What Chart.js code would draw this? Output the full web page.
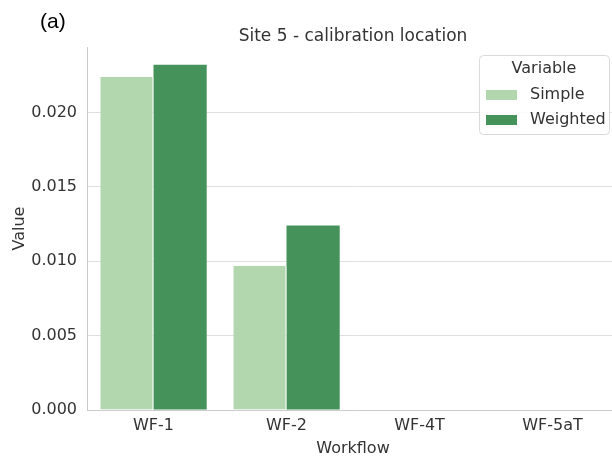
<!DOCTYPE html>
<html lang="en">
<head>
    <meta charset="UTF-8">
    <title>Site 5 - calibration location</title>
    <script src="https://cdn.jsdelivr.net/npm/chart.js"></script>
    <style>
        html, body {
            margin: 0;
            padding: 0;
            background: #fff;
            overflow: hidden;
        }
        canvas {
            display: block;
        }
    </style>
</head>
<body>
    <canvas id="chart" width="620" height="464"></canvas>

    <script>
        // data
        const workflows = ['WF-1', 'WF-2', 'WF-4T', 'WF-5aT'];
        const simpleValues = [0.0224, 0.0097, null, null];
        const weightedValues = [0.0232, 0.0124, null, null];
        const yTicks = [0, 0.005, 0.01, 0.015, 0.02];

        const textColor = '#333333';
        const font = 'DejaVu Sans';

        // title, panel letter and legend drawn over the plot area
        const overlay = {
            id: 'overlay',
            afterDraw(chart) {
                const ctx = chart.ctx;
                const area = chart.chartArea;
                ctx.save();

                ctx.fillStyle = '#000';
                ctx.font = '21px "Liberation Sans"';
                ctx.textAlign = 'left';
                ctx.textBaseline = 'alphabetic';
                ctx.fillText('(a)', 40, 28);

                ctx.fillStyle = textColor;
                ctx.font = '17px "' + font + '"';
                ctx.textAlign = 'center';
                ctx.fillText('Site 5 - calibration location', (area.left + area.right) / 2, 41);

                // legend box
                const bx = 479.5, by = 55.5, bw = 130, bh = 79;
                ctx.beginPath();
                ctx.roundRect(bx, by, bw, bh, 4);
                ctx.fillStyle = 'rgba(255,255,255,0.85)';
                ctx.fill();
                ctx.strokeStyle = '#d9d9d9';
                ctx.lineWidth = 1;
                ctx.stroke();

                ctx.font = '16px "' + font + '"';
                ctx.fillStyle = textColor;
                ctx.textAlign = 'center';
                ctx.textBaseline = 'middle';
                ctx.fillText('Variable', 544, 69);

                ctx.textAlign = 'left';
                chart.data.datasets.forEach((ds, i) => {
                    const cy = 95 + i * 25;
                    ctx.fillStyle = ds.backgroundColor;
                    ctx.fillRect(486, cy - 5, 31, 10);
                    ctx.fillStyle = textColor;
                    ctx.fillText(ds.label, 530, cy);
                });

                ctx.restore();
            }
        };

        const ctx = document.getElementById('chart').getContext('2d');

        new Chart(ctx, {
            type: 'bar',
            data: {
                labels: workflows,
                datasets: [{
                    label: 'Simple',
                    data: simpleValues,
                    backgroundColor: '#b2d7ae',
                    borderColor: '#ffffff',
                    borderWidth: { top: 0, left: 0, bottom: 0, right: 1 },
                    categoryPercentage: 0.8,
                    barPercentage: 1.0
                }, {
                    label: 'Weighted',
                    data: weightedValues,
                    backgroundColor: '#45935a',
                    categoryPercentage: 0.8,
                    barPercentage: 1.0,
                    borderWidth: 0
                }]
            },
            options: {
                responsive: false,
                animation: false,
                layout: {
                    padding: { top: 47, left: 6, right: 1, bottom: 2 }
                },
                plugins: {
                    legend: { display: false },
                    title: { display: false },
                    tooltip: { enabled: false }
                },
                scales: {
                    x: {
                        grid: { display: false, drawTicks: false },
                        border: { display: true, color: '#cccccc', width: 1 },
                        ticks: {
                            color: textColor,
                            font: { family: font, size: 16 },
                            padding: 6
                        },
                        title: {
                            display: true,
                            text: 'Workflow',
                            color: textColor,
                            font: { family: font, size: 16 }
                        },
                        afterFit(scale) { scale.height = 52; }
                    },
                    y: {
                        min: 0,
                        max: 0.0244,
                        afterBuildTicks(scale) {
                            scale.ticks = yTicks.map(v => ({ value: v }));
                        },
                        grid: {
                            color: '#e0e0e0',
                            drawTicks: false
                        },
                        border: { display: true, color: '#cccccc', width: 1 },
                        ticks: {
                            color: textColor,
                            font: { family: font, size: 16 },
                            padding: 10,
                            callback: v => v.toFixed(3)
                        },
                        title: {
                            display: true,
                            text: 'Value',
                            color: textColor,
                            font: { family: font, size: 16 }
                        },
                        afterFit(scale) { scale.width = 81; }
                    }
                }
            },
            plugins: [overlay]
        });
    </script>
</body>
</html>
